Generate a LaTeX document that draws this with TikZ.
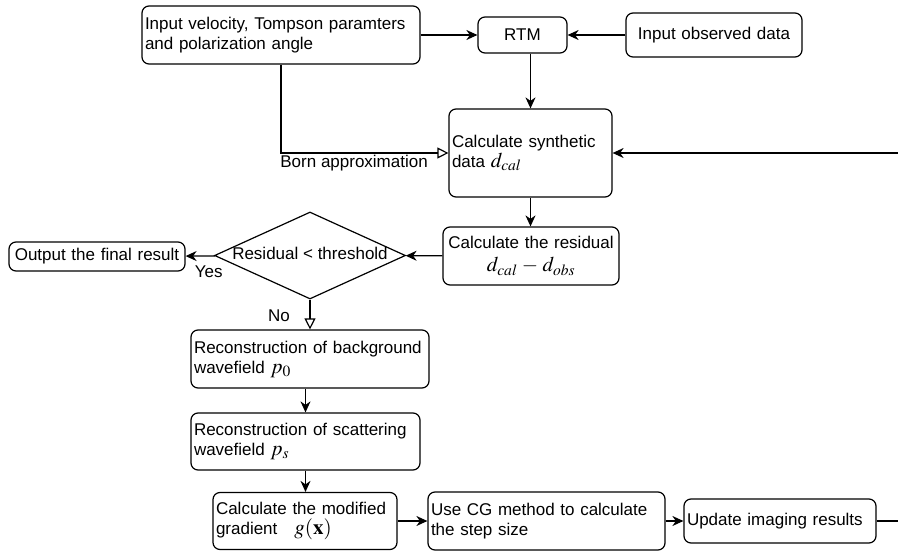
\documentclass[tikz,border=0pt]{standalone}
\usepackage{mathptmx}
\usepackage[no-math]{fontspec}
\setmainfont{Liberation Sans}
\usetikzlibrary{arrows.meta,shapes.geometric}

\newcommand{\bigmath}[1]{{\fontsize{21}{20}\selectfont$#1$}}

\begin{document}
\begin{tikzpicture}[
  x=1pt,y=-1pt,
  every node/.style={font=\fontsize{17}{20}\selectfont},
  flowbox/.style={draw,line width=1.2pt,rounded corners=7pt,inner xsep=3pt,inner ysep=0pt,
                  align=left},
  decision/.style={draw,diamond,line width=1.2pt,inner sep=0pt,
                   minimum width=191pt,minimum height=87pt},
  arr/.style={-{Stealth[length=11pt,width=10pt,inset=3.5pt]},line width=1.2pt},
  openarr/.style={-{Triangle[open,length=11pt,width=11pt]},line width=1.2pt},
]
  \useasboundingbox (0,0) rectangle (898,551);

  % inputs
  \node[flowbox,text width=272pt,minimum height=58pt] (input) at (281,35)
    {Input velocity, Tompson paramters\\and polarization angle};
  \node[flowbox,align=center,text width=83pt,minimum height=36pt] (rtm) at (522.5,35) {RTM};
  \node[flowbox,align=center,text width=170pt,minimum height=44pt] (observed) at (714,35)
    {Input observed data};

  % forward modelling
  \node[flowbox,text width=157pt,minimum height=88pt] (synth) at (530.5,153)
    {Calculate synthetic\\data \bigmath{d_{cal}}};
  \node[flowbox,align=center,text width=170pt,minimum height=58pt] (residual) at (531,256)
    {Calculate the residual\\[3pt]\bigmath{d_{cal}-d_{obs}}};

  % stopping test
  \node[decision] (check) at (310,255.5) {};
  \node[inner sep=0pt] (checktext) at (310,253) {Residual < threshold};
  \node[flowbox,align=center,text width=170pt,minimum height=29pt] (output) at (97,256.5)
    {Output the final result};

  % gradient
  \node[flowbox,text width=232pt,minimum height=58pt] (bg) at (310,359)
    {Reconstruction of background\\wavefield \bigmath{p_0}};
  \node[flowbox,text width=223pt,minimum height=57pt] (scat) at (305.5,441.5)
    {Reconstruction of scattering\\wavefield \bigmath{p_s}};
  \node[flowbox,text width=178pt,minimum height=57pt] (grad) at (305,521)
    {Calculate the modified\\gradient\quad\bigmath{g(\mathbf{x})}};
  \node[flowbox,text width=231pt,minimum height=58pt] (cg) at (546.5,521)
    {Use CG method to calculate\\the step size};
  \node[flowbox,text width=186pt,minimum height=44pt] (update) at (780,521)
    {Update imaging results};

  \coordinate (edge) at (901,0);

  % Arrows
  \draw[arr] (input) -- (rtm);
  \draw[arr] (observed) -- (rtm);
  \draw[arr] (rtm.south -| synth.north) -- (synth.north);
  \draw[openarr] (input.south) |- (synth.west)
    node[pos=1,anchor=north east,inner sep=0pt,xshift=-20pt,yshift=-2pt] (born) {Born approximation};
  \draw[arr] (synth.south) -- (synth.south |- residual.north);
  \draw[arr] (residual) -- (check);
  \draw[arr] (check) -- (output);
  \draw[openarr] (check) -- (bg);
  \draw[arr] (bg.south -| scat.north) -- (scat.north);
  \draw[arr] (scat.south) -- (scat.south |- grad.north);
  \draw[arr] (grad) -- (cg);
  \draw[arr] (cg) -- (update);
  \draw[arr] (update.east) -- (update.east -| edge) |- (synth.east);

  % Labels
  \node[anchor=north west,inner sep=0pt] (yes) at ([xshift=9pt,yshift=-9.5pt]output.east) {Yes};
  \node[anchor=north east,inner sep=0pt] (no) at ([xshift=-20pt,yshift=-10pt]check.south) {No};
\end{tikzpicture}
\end{document}
